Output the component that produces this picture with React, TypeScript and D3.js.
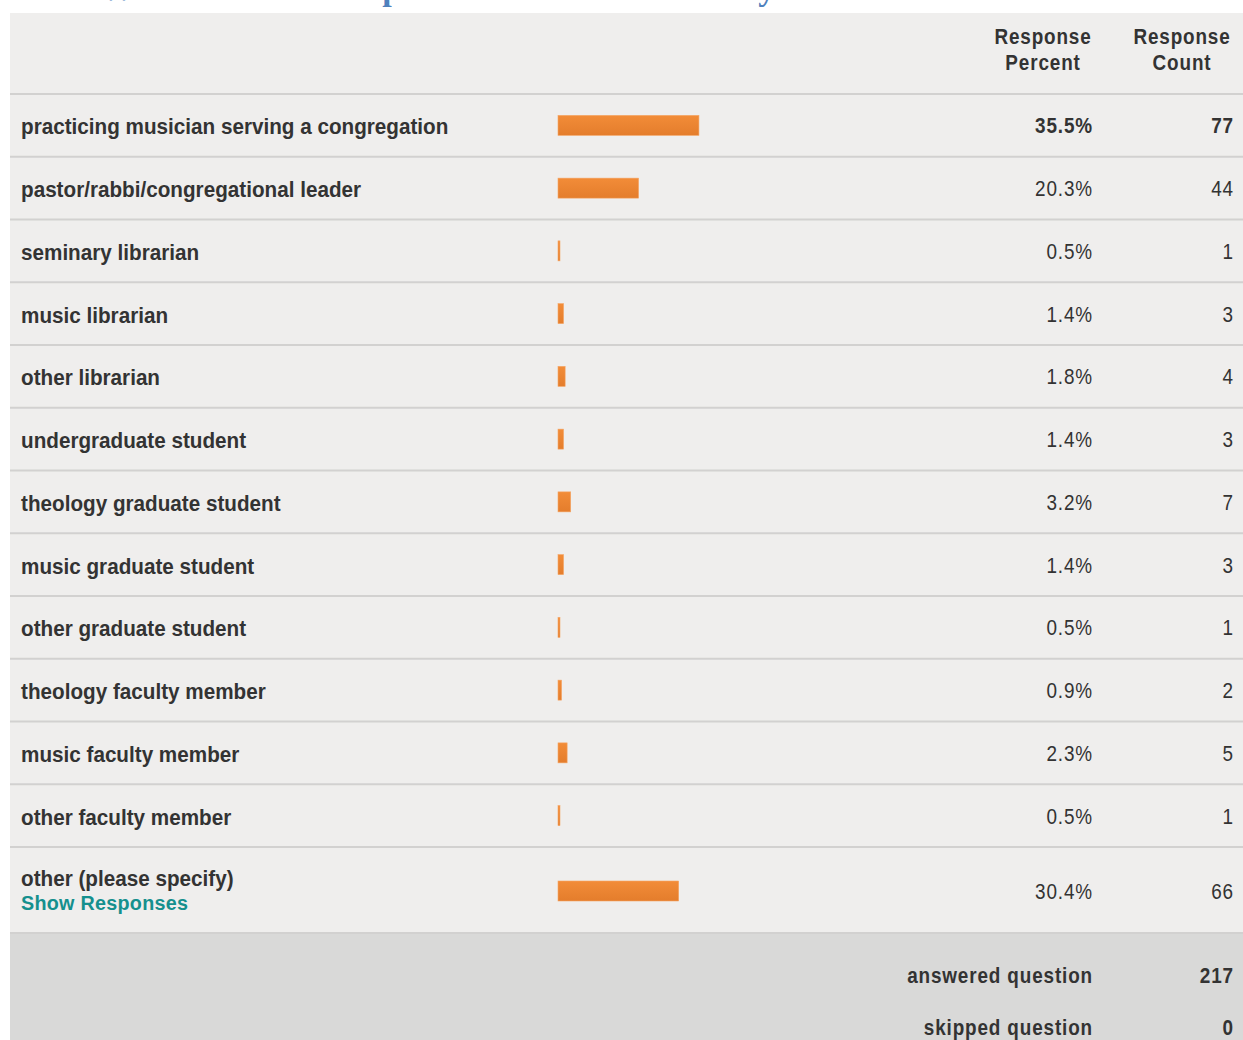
import React, { useEffect, useRef } from 'react';
import * as d3 from 'd3';

const categories = [
  'practicing musician serving a congregation',
  'pastor/rabbi/congregational leader',
  'seminary librarian',
  'music librarian',
  'other librarian',
  'undergraduate student',
  'theology graduate student',
  'music graduate student',
  'other graduate student',
  'theology faculty member',
  'music faculty member',
  'other faculty member',
  'other (please specify)',
];
const percents = [35.5, 20.3, 0.5, 1.4, 1.8, 1.4, 3.2, 1.4, 0.5, 0.9, 2.3, 0.5, 30.4];
const counts = [77, 44, 1, 3, 4, 3, 7, 3, 1, 2, 5, 1, 66];
const summaryLabels = ['answered question', 'skipped question'];
const summaryValues = [217, 0];
const headers = [['Response', 'Percent'], ['Response', 'Count']];

const App: React.FC = () => {
  const svgRef = useRef<SVGSVGElement>(null);

  useEffect(() => {
    if (!svgRef.current) return;
    document.body.style.margin = '0';
    const width = 1243;
    const height = 1040;
    const svg = d3.select(svgRef.current);
    svg.selectAll('*').remove();
    svg.attr('width', width).attr('height', height);

    const font = '"Liberation Sans", Arial, sans-serif';
    const textColor = '#333333';

    // helper: slightly condensed text at x,y
    const addText = (
      parent: d3.Selection<any, any, any, any>,
      x: number, y: number, txt: string,
      opts: { size: number; sx: number; bold?: boolean; anchor?: string; spacing?: number; color?: string }
    ) =>
      parent.append('text')
        .attr('transform', `translate(${x},${y}) scale(${opts.sx},1)`)
        .attr('text-anchor', opts.anchor || 'start')
        .attr('fill', opts.color || textColor)
        .style('font-family', font)
        .style('font-weight', opts.bold ? 'bold' : 'normal')
        .style('font-size', `${opts.size}px`)
        .style('letter-spacing', `${opts.spacing || 0}px`)
        .text(txt);

    const rowH = 62.75;
    const top = 94;
    const last = categories.length - 1;
    const rowTop = (i: number) => top + i * rowH;
    const rowBottom = (i: number) => (i === last ? rowTop(i) + 86 : rowTop(i + 1));
    const tableBottom = rowBottom(last);
    const mid = (i: number) => (i === last ? rowTop(i) + 44 : rowTop(i) + rowH / 2);

    const x = d3.scaleLinear().domain([0, 100]).range([558, 955]);

    // title (cut off at top in the source)
    svg.append('text')
      .attr('x', 100).attr('y', 0)
      .attr('fill', '#4f81bd')
      .style('font-family', '"Liberation Serif", serif')
      .style('font-weight', 'bold')
      .style('font-size', '34px')
      .text('Which of the descriptions best describes who you are?');

    // backgrounds
    svg.append('rect')
      .attr('x', 10).attr('y', 13).attr('width', width - 10).attr('height', tableBottom - 13)
      .attr('fill', '#efeeed');
    svg.append('rect')
      .attr('x', 10).attr('y', tableBottom).attr('width', width - 10).attr('height', height - tableBottom)
      .attr('fill', '#d9d9d8');

    // header
    const headerX = [1043, 1182];
    headers.forEach((lines, j) => {
      lines.forEach((t, k) => {
        addText(svg, headerX[j], 44 + k * 26, t, { size: 22, sx: 0.86, bold: true, anchor: 'middle', spacing: 1 });
      });
    });

    // separators
    const seps = d3.range(categories.length + 1).map((i) => (i === 0 ? top : rowBottom(i - 1)));
    svg.selectAll('line.sep').data(seps).enter().append('line')
      .attr('x1', 10).attr('x2', width)
      .attr('y1', (d) => d).attr('y2', (d) => d)
      .attr('stroke', '#d2d1d0').attr('stroke-width', 2);

    const defs = svg.append('defs');
    const grad = defs.append('linearGradient').attr('id', 'barGrad')
      .attr('x1', 0).attr('y1', 0).attr('x2', 0).attr('y2', 1);
    grad.append('stop').attr('offset', '0%').attr('stop-color', '#f28c38');
    grad.append('stop').attr('offset', '100%').attr('stop-color', '#e47d2c');

    const maxPct = d3.max(percents) as number;

    categories.forEach((cat, i) => {
      const g = svg.append('g');
      addText(g, 21, i === last ? rowTop(i) + 39 : mid(i) + 9, cat, { size: 22, sx: 0.94, bold: true });

      g.append('rect')
        .attr('x', x(0))
        .attr('y', mid(i) - 10)
        .attr('width', x(percents[i]) - x(0))
        .attr('height', 20)
        .attr('fill', 'url(#barGrad)')
        .attr('stroke', '#f5a565').attr('stroke-width', 0.6);

      const bold = percents[i] === maxPct;
      addText(g, 1093, mid(i) + 8, `${percents[i].toFixed(1)}%`, { size: 22, sx: 0.86, bold, anchor: 'end', spacing: 1 });
      addText(g, 1234, mid(i) + 8, String(counts[i]), { size: 22, sx: 0.86, bold, anchor: 'end', spacing: 1 });
    });

    addText(svg, 21, rowTop(last) + 63, 'Show Responses', { size: 21, sx: 0.94, bold: true, color: '#15908e', spacing: 0.3 });

    // summary
    summaryLabels.forEach((lab, i) => {
      const y = 983 + i * 52;
      addText(svg, 1093, y, lab, { size: 22, sx: 0.86, bold: true, anchor: 'end', spacing: 1 });
      addText(svg, 1234, y, String(summaryValues[i]), { size: 22, sx: 0.86, bold: true, anchor: 'end', spacing: 1 });
    });
  }, []);

  return (
    <div style={{ position: 'absolute', left: 0, top: 0 }}>
      <svg ref={svgRef} style={{ display: 'block' }}></svg>
    </div>
  );
};

export default App;
